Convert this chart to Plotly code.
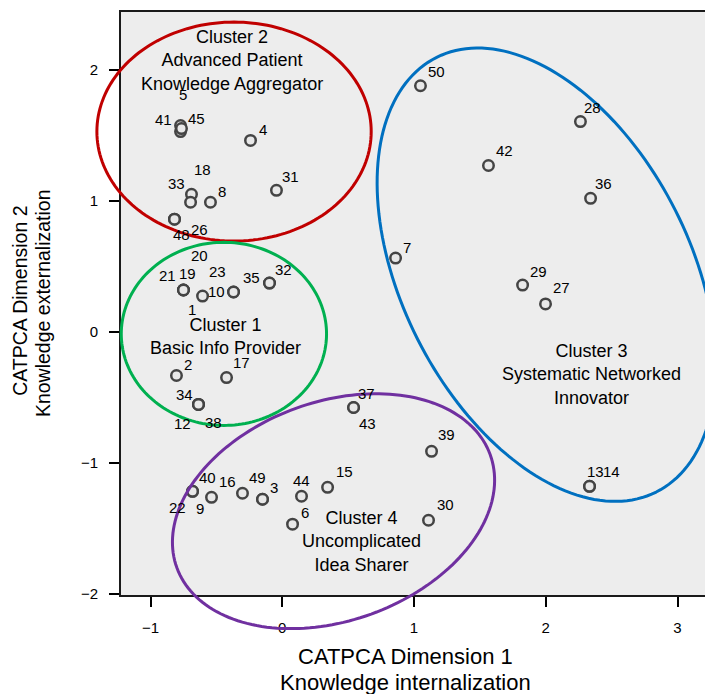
import numpy as np
import plotly.graph_objects as go

# ---------------- data ----------------
ids = ["5", "41", "45", "4", "31", "8", "18", "33", "48", "26",
       "20", "21", "19", "1", "10", "23", "35", "32", "2", "17",
       "34", "12", "38", "37", "43", "39", "40", "22", "9", "16",
       "49", "3", "44", "15", "6", "30", "50", "28", "42", "36",
       "7", "29", "27", "13", "14"]
dim1 = [-0.772, -0.772, -0.765, -0.241, -0.044, -0.545, -0.689, -0.696, -0.818, -0.818,
        -0.750, -0.750, -0.750, -0.605, -0.370, -0.370, -0.097, -0.097, -0.803, -0.423,
        -0.636, -0.636, -0.636, 0.541, 0.541, 1.133, -0.681, -0.681, -0.537, -0.302,
        -0.150, -0.150, 0.146, 0.344, 0.078, 1.110, 1.049, 2.263, 1.565, 2.340,
        0.860, 1.824, 1.998, 2.332, 2.332]
dim2 = [1.577, 1.531, 1.554, 1.463, 1.082, 0.991, 1.052, 0.991, 0.862, 0.862,
        0.321, 0.321, 0.321, 0.275, 0.306, 0.306, 0.374, 0.374, -0.332, -0.348,
        -0.553, -0.553, -0.553, -0.576, -0.576, -0.911, -1.216, -1.216, -1.262, -1.231,
        -1.277, -1.277, -1.254, -1.186, -1.467, -1.437, 1.881, 1.607, 1.272, 1.021,
        0.565, 0.359, 0.215, -1.178, -1.178]
# label offsets in screen pixels (right, down)
label_dx = [2, -17, 15, 12, 14, 12, 11, -14, 7, 25,
            16, -16, 4, -11, -17, -16, -18, 14, 12, 15,
            -14, -16, 15, 13, 14, 15, 15, -15, -12, -15,
            -5, 11, 0, 17, 12, 17, 16, 12, 16, 13,
            11, 16, 16, 6, 22]
label_dy = [-31, -12, -10, -11, -14, -11, -25, -19, 15, 10,
            -35, -15, -17, 13, 0, -20, -6, -14, -11, -15,
            -10, 19, 18, -14, 16, -17, -14, 16, 11, -12,
            -22, -12, -16, -16, -12, -16, -14, -14, -15, -15,
            -11, -14, -16, -15, -15]

cluster_names = ["Cluster 2<br>Advanced Patient<br>Knowledge Aggregator",
                 "Cluster 1<br>Basic Info Provider",
                 "Cluster 3<br>Systematic Networked<br>Innovator",
                 "Cluster 4<br>Uncomplicated<br>Idea Sharer"]
cluster_text_x = [-0.378, -0.431, 2.348, 0.60]
cluster_text_y = [2.072, -0.033, -0.326, -1.597]
cluster_colors = ["#c00000", "#00b050", "#0070c0", "#7030a0"]
ell_cx = [-0.366, -0.443, 2.005, 0.389]
ell_cy = [1.531, -0.014, 0.438, -1.368]
ell_a = [1.041, 0.779, 1.857, 1.265]
ell_b = [0.836, 0.699, 1.095, 0.836]
ell_ang = [0.0, 0.0, -63.35, 20.0]

x_ticks = [-1, 0, 1, 2, 3]
y_ticks = [-2, -1, 0, 1, 2]
x_range = [-1.224, 3.216]
y_range = [-2.008, 2.444]

FONT = "Liberation Sans, Arial, Helvetica, sans-serif"

fig = go.Figure()
fig.add_trace(go.Scatter(
    x=dim1, y=dim2, mode="markers", hoverinfo="text", text=ids,
    marker=dict(symbol="circle", size=10.5, color="#e8e8e8",
                line=dict(color="#444444", width=2.5)),
    cliponaxis=False, showlegend=False))

shapes = []
t = np.linspace(0, 2 * np.pi, 181)
for cx, cy, a, b, ang, col in zip(ell_cx, ell_cy, ell_a, ell_b, ell_ang, cluster_colors):
    th = np.deg2rad(ang)
    ex = cx + a * np.cos(t) * np.cos(th) - b * np.sin(t) * np.sin(th)
    ey = cy + a * np.cos(t) * np.sin(th) + b * np.sin(t) * np.cos(th)
    px = (ex - x_range[0]) / (x_range[1] - x_range[0])
    py = (ey - y_range[0]) / (y_range[1] - y_range[0])
    path = "M " + " L ".join(f"{u:.5f},{v:.5f}" for u, v in zip(px, py)) + " Z"
    shapes.append(dict(type="path", xref="paper", yref="paper", path=path,
                       line=dict(color=col, width=3), layer="above"))

annotations = []
for lab, x, y, dx, dy in zip(ids, dim1, dim2, label_dx, label_dy):
    annotations.append(dict(x=x, y=y, text=lab, showarrow=False, xshift=dx, yshift=-dy,
                            xanchor="center", yanchor="middle",
                            font=dict(size=15, color="black", family=FONT)))
for name, x, y in zip(cluster_names, cluster_text_x, cluster_text_y):
    annotations.append(dict(x=x, y=y, text=name, showarrow=False,
                            xanchor="center", yanchor="middle",
                            font=dict(size=18, color="black", family=FONT)))

# axis titles
annotations += [
    dict(xref="paper", yref="paper", x=0.487, y=-0.106, text="CATPCA Dimension 1",
         xanchor="center", yanchor="middle",
         showarrow=False, font=dict(size=22, color="black", family=FONT)),
    dict(xref="paper", yref="paper", x=0.487, y=-0.150, text="Knowledge internalization",
         xanchor="center", yanchor="middle",
         showarrow=False, font=dict(size=22, color="black", family=FONT)),
    dict(xref="paper", yref="paper", x=-0.174, y=0.505, text="CATPCA Dimension 2",
         xanchor="center", yanchor="middle",
         textangle=-90, showarrow=False, font=dict(size=19.5, color="black", family=FONT)),
    dict(xref="paper", yref="paper", x=-0.134, y=0.50, text="Knowledge externalization",
         xanchor="center", yanchor="middle",
         textangle=-90, showarrow=False, font=dict(size=19.5, color="black", family=FONT)),
]

# the page body adds an 8px margin, so the figure is sized/margined to compensate
fig.update_layout(
    width=705, height=686,
    margin=dict(l=113, r=7, t=2, b=99),
    paper_bgcolor="white", plot_bgcolor="#ededed",
    font=dict(family=FONT, color="black"),
    shapes=shapes, annotations=annotations,
    xaxis=dict(range=x_range, tickvals=x_ticks, showgrid=False, zeroline=False,
               showline=True, mirror=True, linecolor="#1a1a1a", linewidth=2,
               ticks="outside", ticklen=10, tickwidth=2, tickcolor="black",
               tickfont=dict(size=15), ticklabelstandoff=8),
    yaxis=dict(range=y_range, tickvals=y_ticks, showgrid=False, zeroline=False,
               showline=True, mirror=True, linecolor="#1a1a1a", linewidth=2,
               ticks="outside", ticklen=10, tickwidth=2, tickcolor="black",
               tickfont=dict(size=15), ticklabelstandoff=8),
)

fig.write_html("out.html")
